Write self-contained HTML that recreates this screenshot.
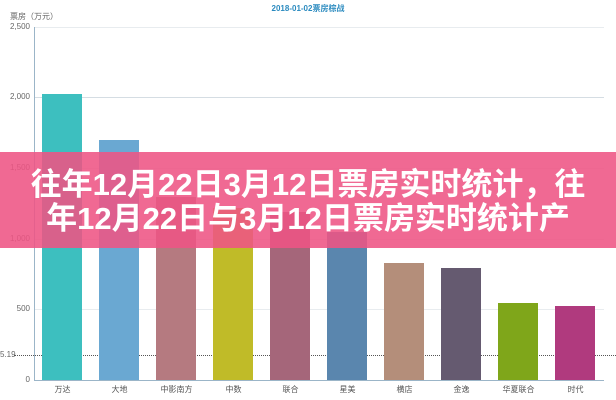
<!DOCTYPE html><html><head><meta charset="utf-8"><style>
body{margin:0;width:616px;height:400px;overflow:hidden;background:#fff;font-family:"Liberation Sans","Noto Sans CJK SC",sans-serif;position:relative}
.t{position:absolute;font-size:8px;color:#666}
.grid{position:absolute;left:34px;width:570px;height:1px;background:#e8ecef}
.bar{position:absolute;width:40px}
.xl{position:absolute;top:384px;width:57px;text-align:center;font-size:8px;color:#555}
.yl{position:absolute;left:0;width:30px;text-align:right;font-size:8px;color:#666}
#ban{position:absolute;left:0;top:152px;width:616px;height:96px;background:rgba(238,84,132,0.88);color:#fff;font-weight:bold;font-size:31px;text-align:center;line-height:34px;padding-top:16px;box-sizing:border-box;white-space:nowrap}
</style></head><body>
<div class="t" style="left:0;width:616px;text-align:center;top:3px;color:#2a8abf;font-weight:bold;font-size:8px">2018-01-02票房棕战</div>
<div class="t" style="left:10px;top:11px">票房（万元）</div>
<div class="grid" style="top:27px"></div><div class="grid" style="top:97px;background:#d5dde3"></div><div class="grid" style="top:168px"></div><div class="grid" style="top:239px"></div><div class="grid" style="top:309px"></div>
<div class="yl" style="top:22px">2,500</div><div class="yl" style="top:92px">2,000</div><div class="yl" style="top:163px">1,500</div><div class="yl" style="top:234px">1,000</div><div class="yl" style="top:304px">500</div><div class="yl" style="top:375px">0</div>
<div class="yl" style="top:350px;width:14px">5.19</div>
<div style="position:absolute;left:34px;top:27px;width:1px;height:354px;background:#9bb5c8"></div>
<div style="position:absolute;left:34px;top:380px;width:570px;height:1px;background:#9bb5c8"></div>
<div style="position:absolute;left:14px;top:355px;width:602px;border-top:1px dotted #555"></div>
<div class="bar" style="left:42px;top:94px;height:286px;background:#3dbfbf"></div>
<div class="bar" style="left:99px;top:140px;height:240px;background:#6aa8d2"></div>
<div class="bar" style="left:156px;top:197px;height:183px;background:#b57a80"></div>
<div class="bar" style="left:213px;top:208px;height:172px;background:#c0bb28"></div>
<div class="bar" style="left:270px;top:212px;height:168px;background:#a5667a"></div>
<div class="bar" style="left:327px;top:232px;height:148px;background:#5a86ae"></div>
<div class="bar" style="left:384px;top:263px;height:117px;background:#b48e7a"></div>
<div class="bar" style="left:441px;top:268px;height:112px;background:#655a70"></div>
<div class="bar" style="left:498px;top:303px;height:77px;background:#7fa61a"></div>
<div class="bar" style="left:555px;top:306px;height:74px;background:#b03a7e"></div>
<div class="xl" style="left:34px">万达</div><div class="xl" style="left:91px">大地</div><div class="xl" style="left:148px">中影南方</div><div class="xl" style="left:205px">中数</div><div class="xl" style="left:262px">联合</div><div class="xl" style="left:319px">星美</div><div class="xl" style="left:376px">横店</div><div class="xl" style="left:433px">金逸</div><div class="xl" style="left:490px">华夏联合</div><div class="xl" style="left:547px">时代</div>
<div id="ban">往年12月22日3月12日票房实时统计，往<br>年12月22日与3月12日票房实时统计产</div>
</body></html>
